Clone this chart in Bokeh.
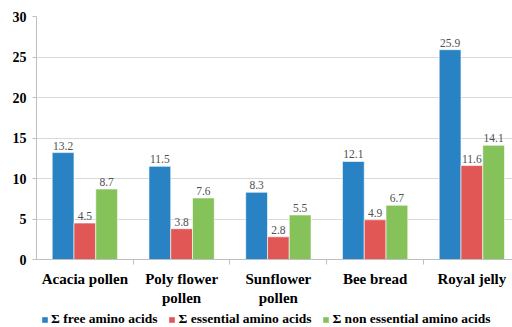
from bokeh.plotting import figure
from bokeh.layouts import column
from bokeh.models import ColumnDataSource, Legend, LegendItem, Range1d, FixedTicker
from bokeh.transform import dodge
from bokeh.core.properties import value
from bokeh.embed import file_html
from bokeh.resources import INLINE

categories = ["Acacia pollen", "Poly flower\npollen", "Sunflower\npollen", "Bee bread", "Royal jelly"]
free_aa = [13.2, 11.5, 8.3, 12.1, 25.9]
essential_aa = [4.5, 3.8, 2.8, 4.9, 11.6]
non_essential_aa = [8.7, 7.6, 5.5, 6.7, 14.1]
series_names = ["\u03a3 free amino acids", "\u03a3 essential amino acids", "\u03a3 non essential amino acids"]
colors = ["#2882C4", "#E05756", "#86C25A"]
y_ticks = [0, 5, 10, 15, 20, 25, 30]

FONT = "'Liberation Serif', 'Times New Roman', serif"

centers = [i + 0.5 for i in range(len(categories))]
boundaries = [i + 1.0 for i in range(len(categories) - 1)]

src = ColumnDataSource(dict(
    xc=centers, a=free_aa, b=essential_aa, c=non_essential_aa,
    at=[f"{v:.1f}" for v in free_aa],
    bt=[f"{v:.1f}" for v in essential_aa],
    ct=[f"{v:.1f}" for v in non_essential_aa],
))

p = figure(width=512, height=310, x_range=Range1d(0, 4.92), y_range=Range1d(0, 30),
           output_backend="svg", toolbar_location=None,
           min_border_left=36, min_border_right=0, min_border_top=16, min_border_bottom=51)
p.outline_line_color = None

w = 0.225
offs = [-w, 0.0, w]
renderers = []
for col, off, color in zip(["a", "b", "c"], offs, colors):
    r = p.vbar(x=dodge("xc", off), top=col, width=w, source=src,
               fill_color=color, line_color="white", line_width=0.6)
    renderers.append(r)
    p.text(x=dodge("xc", off), y=col, text=col + "t", source=src,
           text_align="center", text_baseline="bottom", y_offset=-3,
           text_font=value(FONT), text_font_size="11.5px", text_color="#505050")

p.yaxis.ticker = y_ticks
p.ygrid.grid_line_color = "#d9d9d9"
p.xgrid.grid_line_color = None
p.yaxis.axis_line_color = "#bfbfbf"
p.yaxis.major_tick_line_color = "#bfbfbf"
p.yaxis.major_tick_out = 4
p.yaxis.major_tick_in = 0
p.yaxis.minor_tick_line_color = None
p.yaxis.major_label_text_font = FONT
p.yaxis.major_label_text_font_style = "bold"
p.yaxis.major_label_text_font_size = "14px"
p.yaxis.major_label_text_color = "#000000"
p.yaxis.major_label_standoff = 6

p.xaxis.ticker = FixedTicker(ticks=centers, minor_ticks=boundaries)
p.xaxis.major_label_overrides = {c: name for c, name in zip(centers, categories)}
p.xaxis.axis_line_color = "#bfbfbf"
p.xaxis.major_tick_line_color = None
p.xaxis.major_tick_out = 0
p.xaxis.minor_tick_line_color = "#bfbfbf"
p.xaxis.minor_tick_out = 5
p.xaxis.minor_tick_in = 0
p.xaxis.major_label_text_font = FONT
p.xaxis.major_label_text_font_style = "bold"
p.xaxis.major_label_text_font_size = "15px"
p.xaxis.major_label_text_color = "#000000"
p.xaxis.major_label_standoff = 6

# legend strip below the chart
lg = figure(width=512, height=17, x_range=Range1d(0, 1), y_range=Range1d(0, 1),
            output_backend="svg", toolbar_location=None,
            min_border=0, x_axis_location=None, y_axis_location=None)
lg.outline_line_color = None
lg.grid.visible = False
dummy = []
for color in colors:
    dummy.append(lg.vbar(x=[5], top=[0], width=0.1, fill_color=color, line_color=None))

legend = Legend(items=[LegendItem(label=n, renderers=[r]) for n, r in zip(series_names, dummy)],
                orientation="horizontal", location=(5, 0),
                label_text_font=FONT, label_text_font_style="bold", label_text_font_size="13.5px",
                label_text_color="#000000", glyph_width=7, glyph_height=7, label_height=13,
                spacing=11, label_standoff=3, padding=0, margin=0, border_line_color=None,
                background_fill_alpha=0)
lg.add_layout(legend, "center")

layout = column(p, lg, spacing=0)

open("out.html", "w").write(file_html(layout, INLINE))
